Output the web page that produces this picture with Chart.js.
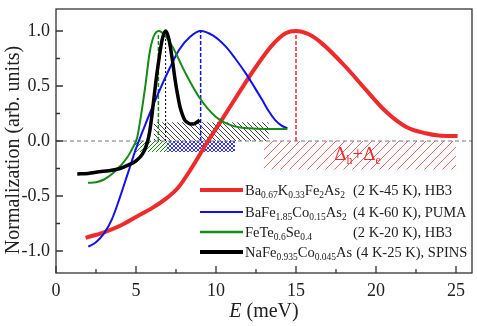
<!DOCTYPE html>
<html>
<head>
<meta charset="utf-8">
<script src="https://cdn.jsdelivr.net/npm/chart.js@4.4.1/dist/chart.umd.min.js"></script>
<style>
  html, body { margin: 0; padding: 0; background: #fff; }
  canvas { display: block; }
</style>
</head>
<body>
<canvas id="chart" width="477" height="326"></canvas>
<script>
// values (E in meV, normalized intensity)
const redE = [1.85, 3.0, 4.0, 5.0, 6.0, 7.0, 7.6, 8.5, 9.5, 10.35, 11.44, 12.5, 13.5, 14.35, 15.0, 15.8, 16.6, 18.1, 19.4, 20.6, 21.86, 23.1, 23.9, 25.1];
const redI = [-0.88, -0.83, -0.77, -0.69, -0.61, -0.51, -0.43, -0.24, 0.0, 0.19, 0.44, 0.675, 0.87, 0.98, 1.0, 0.97, 0.89, 0.675, 0.46, 0.27, 0.13, 0.07, 0.05, 0.045];

const blueE = [2.02, 2.5, 3.0, 3.5, 4.0, 4.5, 5.0, 5.5, 6.0, 6.5, 7.0, 7.7, 8.4, 9.04, 9.8, 10.6, 11.2, 11.86, 12.4, 12.9, 13.3, 13.7, 14.1, 14.46];
const blueI = [-0.96, -0.92, -0.84, -0.71, -0.51, -0.29, -0.07, 0.12, 0.3, 0.47, 0.63, 0.83, 0.95, 1.0, 0.96, 0.86, 0.75, 0.615, 0.49, 0.37, 0.27, 0.19, 0.14, 0.115];

const greenE = [2.0, 2.5, 3.0, 3.5, 4.0, 4.45, 4.8, 5.07, 5.3, 5.6, 5.85, 6.1, 6.44, 6.8, 7.27, 8.1, 8.94, 9.98, 11.0, 12.06, 13.2, 14.46];
const greenI = [-0.38, -0.375, -0.35, -0.3, -0.23, -0.15, -0.06, 0.03, 0.22, 0.52, 0.8, 0.95, 1.0, 0.96, 0.86, 0.615, 0.4, 0.22, 0.14, 0.115, 0.11, 0.11];

const blackE = [1.33, 2.0, 2.7, 3.3, 4.0, 4.5, 5.0, 5.4, 5.65, 5.85, 6.05, 6.25, 6.45, 6.65, 6.85, 7.05, 7.27, 7.45, 7.6, 7.75, 7.9, 8.05, 8.2, 8.4, 8.6, 8.8, 8.98];
const blackI = [-0.3, -0.295, -0.28, -0.27, -0.25, -0.22, -0.18, -0.12, -0.04, 0.08, 0.3, 0.55, 0.76, 0.93, 1.0, 0.93, 0.74, 0.55, 0.42, 0.31, 0.24, 0.19, 0.17, 0.155, 0.155, 0.17, 0.19];

// dashed peak markers: red, blue, green, black
const peakE = [15.0, 9.04, 6.4, 6.85];
const peakTop = [1.0, 1.0, 0.98, 1.0];

// hatched bands: [from E, to E, level]
const bandBlack = [6.1, 13.3, 0.17];
const bandGreen = [4.9, 7.1, -0.1];
const bandBlue = [6.9, 11.2, -0.1];
const bandRed = [13.0, 25.0, -0.26];

const xTicks = [0, 5, 10, 15, 20, 25];
const yTicks = [-1.0, -0.5, 0.0, 0.5, 1.0];

const legendNames = [
  [['Ba', 0], ['0.67', 1], ['K', 0], ['0.33', 1], ['Fe', 0], ['2', 1], ['As', 0], ['2', 1]],
  [['BaFe', 0], ['1.85', 1], ['Co', 0], ['0.15', 1], ['As', 0], ['2', 1]],
  [['FeTe', 0], ['0.6', 1], ['Se', 0], ['0.4', 1]],
  [['NaFe', 0], ['0.935', 1], ['Co', 0], ['0.045', 1], ['As', 0]]
];
const legendInfo = ['(2 K-45 K), HB3', '(4 K-60 K), PUMA', '(2 K-20 K), HB3', '(4 K-25 K), SPINS'];

const RED = '#ee2a2a', BLUE = '#1111ee', GREEN = '#158a15', BLACK = '#000000';
const colors = [RED, BLUE, GREEN, BLACK];
const SERIF = '"Liberation Serif", "DejaVu Serif", serif';

function pts(xs, ys) { return xs.map((x, i) => ({ x: x, y: ys[i] })); }

function hatch(color, s, mode, lw) {
  const c = document.createElement('canvas');
  c.width = s; c.height = s;
  const g = c.getContext('2d');
  g.strokeStyle = color; g.lineWidth = lw;
  const fwd = () => { // "/"
    g.beginPath();
    g.moveTo(-1, s + 1); g.lineTo(s + 1, -1);
    g.moveTo(-1, 1); g.lineTo(1, -1);
    g.moveTo(s - 1, s + 1); g.lineTo(s + 1, s - 1);
    g.stroke();
  };
  const back = () => { // "\"
    g.beginPath();
    g.moveTo(-1, -1); g.lineTo(s + 1, s + 1);
    g.moveTo(s - 1, -1); g.lineTo(s + 1, 1);
    g.moveTo(-1, s - 1); g.lineTo(1, s + 1);
    g.stroke();
  };
  if (mode === '/' || mode === 'x') fwd();
  if (mode === '\\' || mode === 'x') back();
  return g.createPattern(c, 'repeat');
}

function band(b, pattern) {
  return {
    data: [{ x: b[0], y: b[2] }, { x: b[1], y: b[2] }],
    fill: 'origin', backgroundColor: pattern, borderWidth: 0,
    pointRadius: 0, tension: 0, order: 10
  };
}

function curve(xs, ys, color, w) {
  return {
    data: pts(xs, ys), borderColor: color, borderWidth: w,
    pointRadius: 0, fill: false, cubicInterpolationMode: 'monotone', order: 1
  };
}

const datasets = [
  band(bandBlack, hatch('#444', 5, '\\', 1)),
  band(bandGreen, hatch(GREEN, 4, '/', 1)),
  band(bandBlue, hatch('rgba(30,30,235,0.9)', 4, 'x', 1)),
  band(bandRed, hatch('rgba(240,70,70,0.85)', 9, '/', 1)),
  {
    data: [{ x: 0, y: 0 }, { x: 26, y: 0 }], borderColor: '#777', borderWidth: 1,
    borderDash: [4, 3], pointRadius: 0, fill: false, order: 5
  }
];
peakE.forEach((e, i) => {
  datasets.push({
    data: [{ x: e, y: 0 }, { x: e, y: peakTop[i] }], borderColor: colors[i],
    borderWidth: i === 3 ? 1 : 1.5, borderDash: i === 3 ? [2, 2] : [4, 2],
    pointRadius: 0, fill: false, order: 4
  });
});
datasets.push(curve(blackE, blackI, BLACK, 3.5));
datasets.push(curve(greenE, greenI, GREEN, 2));
datasets.push(curve(blueE, blueI, BLUE, 2));
datasets.push(curve(redE, redI, RED, 4));

const decor = {
  id: 'decor',
  afterDraw(chart) {
    const ctx = chart.ctx, a = chart.chartArea;
    const xs = chart.scales.x, ys = chart.scales.y;
    ctx.save();
    // frame
    ctx.strokeStyle = '#333'; ctx.lineWidth = 1.3;
    ctx.strokeRect(a.left, a.top, a.right - a.left, a.bottom - a.top);
    // inward ticks
    ctx.beginPath();
    xTicks.forEach((v, i) => {
      const p = xs.getPixelForValue(v);
      ctx.moveTo(p, a.bottom); ctx.lineTo(p, a.bottom - 7);
      if (i < xTicks.length - 1) {
        const m = xs.getPixelForValue((v + xTicks[i + 1]) / 2);
        ctx.moveTo(m, a.bottom); ctx.lineTo(m, a.bottom - 4);
      }
    });
    yTicks.forEach((v, i) => {
      const p = ys.getPixelForValue(v);
      ctx.moveTo(a.left, p); ctx.lineTo(a.left + 7, p);
      if (i < yTicks.length - 1) {
        const m = ys.getPixelForValue((v + yTicks[i + 1]) / 2);
        ctx.moveTo(a.left, m); ctx.lineTo(a.left + 4, m);
      }
    });
    ctx.stroke();

    // axis titles
    ctx.fillStyle = '#222';
    ctx.textBaseline = 'middle';
    ctx.save();
    ctx.translate(14, 150);
    ctx.rotate(-Math.PI / 2);
    ctx.textAlign = 'center';
    ctx.font = '20px ' + SERIF;
    ctx.fillText('Normalization (arb. units)', 0, 0);
    ctx.restore();

    ctx.textAlign = 'left';
    ctx.font = 'italic 20px ' + SERIF;
    const eW = ctx.measureText('E').width;
    ctx.font = '20px ' + SERIF;
    const rest = ' (meV)';
    const rW = ctx.measureText(rest).width;
    const x0 = (a.left + a.right) / 2 - (eW + rW) / 2;
    ctx.font = 'italic 20px ' + SERIF;
    ctx.fillText('E', x0, 312);
    ctx.font = '20px ' + SERIF;
    ctx.fillText(rest, x0 + eW, 312);

    // gap label
    ctx.fillStyle = RED;
    ctx.textBaseline = 'alphabetic';
    const gapParts = [['\u0394', 0], ['h', 1], ['+\u0394', 0], ['e', 1]];
    let gw = 0;
    gapParts.forEach(p => { ctx.font = (p[1] ? '12px ' : '19px ') + SERIF; gw += ctx.measureText(p[0]).width; });
    let gx = xs.getPixelForValue(18.85) - gw / 2;
    const gy = ys.getPixelForValue(-0.17);
    gapParts.forEach(p => {
      ctx.font = (p[1] ? '12px ' : '19px ') + SERIF;
      ctx.fillText(p[0], gx, p[1] ? gy + 4 : gy);
      gx += ctx.measureText(p[0]).width;
    });

    // legend
    const rows = [190, 212, 232, 252];
    const lw = [4, 2, 2.5, 4];
    rows.forEach((y, i) => {
      ctx.strokeStyle = colors[i]; ctx.lineWidth = lw[i];
      ctx.beginPath(); ctx.moveTo(200, y); ctx.lineTo(243, y); ctx.stroke();
      ctx.fillStyle = '#222';
      let x = 245;
      legendNames[i].forEach(p => {
        ctx.font = (p[1] ? '9.5px ' : '14.5px ') + SERIF;
        ctx.fillText(p[0], x, p[1] ? y + 8 : y + 5);
        x += ctx.measureText(p[0]).width;
      });
      ctx.font = '14.5px ' + SERIF;
      const cx = i < 3 ? 353 : x + 4;
      ctx.fillText(legendInfo[i], cx, y + 5);
    });
    ctx.restore();
  }
};

new Chart(document.getElementById('chart'), {
  type: 'line',
  data: { datasets: datasets },
  options: {
    responsive: false,
    animation: false,
    layout: { padding: { left: 0, right: 5, top: 9, bottom: 0 } },
    plugins: { legend: { display: false }, tooltip: { enabled: false } },
    scales: {
      x: {
        type: 'linear', min: 0, max: 26,
        afterFit(s) { s.height = 53; s.paddingLeft = 0; s.paddingRight = 0; },
        afterBuildTicks(s) { s.ticks = xTicks.map(v => ({ value: v })); },
        grid: { display: false, drawTicks: false },
        border: { display: false },
        ticks: { font: { family: SERIF, size: 18 }, color: '#222', padding: 7, maxRotation: 0, autoSkip: false }
      },
      y: {
        type: 'linear', min: -1.2, max: 1.2,
        afterFit(s) { s.width = 56; s.paddingTop = 0; s.paddingBottom = 0; },
        afterBuildTicks(s) { s.ticks = yTicks.map(v => ({ value: v })); },
        grid: { display: false, drawTicks: false },
        border: { display: false },
        ticks: {
          font: { family: SERIF, size: 18 }, color: '#222', padding: 6, autoSkip: false,
          callback: v => v.toFixed(1)
        }
      }
    }
  },
  plugins: [decor]
});
</script>
</body>
</html>
